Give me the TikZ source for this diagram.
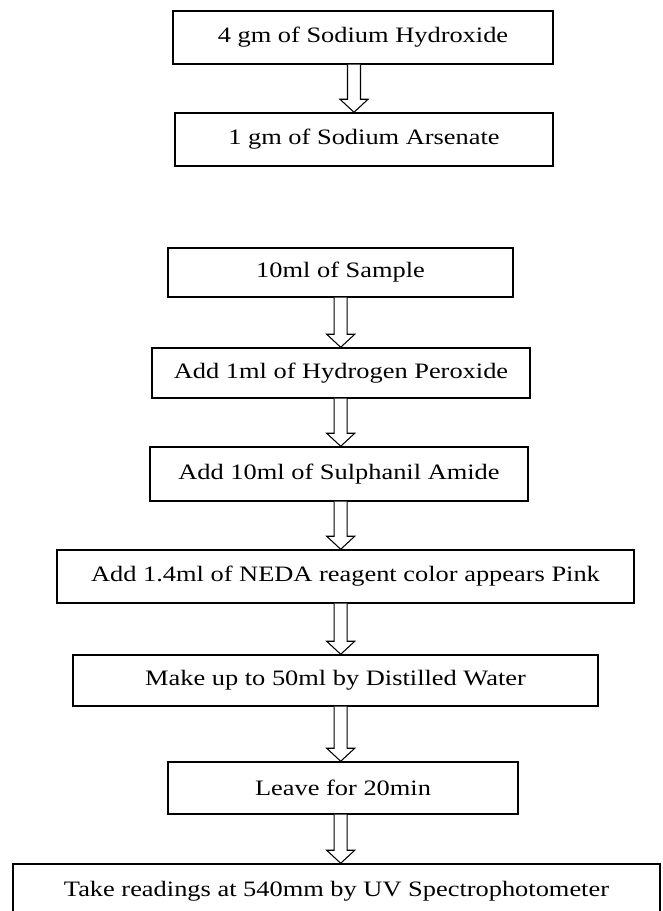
\documentclass[tikz,border=0pt]{standalone}
\usepackage{fontspec}
\setmainfont{Liberation Serif}[FakeStretch=1.2]
\usetikzlibrary{calc}
\tikzset{
  stepbox/.style={draw, line width=1.1pt, inner sep=0pt, anchor=center,
    font=\fontsize{16.5pt}{19pt}\selectfont},
  arrline/.style={draw, line width=0.8pt, fill=white}
}
\newcommand\flowarr[3]{%
  \draw[arrline] let \p1=(#1.south), \p2=(#2.north) in
    ({(#3-6.5)*0.75pt},\y1) -- ({(#3-6.5)*0.75pt},{\y2+9.75pt})
    -- ({(#3-14)*0.75pt},{\y2+9.75pt}) -- ({#3*0.75pt},\y2)
    -- ({(#3+14)*0.75pt},{\y2+9.75pt}) -- ({(#3+6.5)*0.75pt},{\y2+9.75pt})
    -- ({(#3+6.5)*0.75pt},\y1);}
\begin{document}
\begin{tikzpicture}[x=0.75pt,y=-0.75pt]
\useasboundingbox (0,0) rectangle (662,911);
\node[stepbox, minimum width=285pt, minimum height=39.75pt] (b1) at (363,37.5) {4 gm of Sodium Hydroxide};
\node[stepbox, minimum width=283.5pt, minimum height=39.75pt] (b2) at (364,139.5) {1 gm of Sodium Arsenate};
\node[stepbox, minimum width=258.75pt, minimum height=36.75pt] (b3) at (340.5,272.5) {10ml of Sample};
\node[stepbox, minimum width=283.5pt, minimum height=37.5pt] (b4) at (341,373) {Add 1ml of Hydrogen Peroxide};
\node[stepbox, minimum width=283.5pt, minimum height=40.5pt] (b5) at (339,474) {Add 10ml of Sulphanil Amide};
\node[stepbox, minimum width=432.75pt, minimum height=39.75pt] (b6) at (345.5,576.5) {Add 1.4ml of NEDA reagent color appears Pink};
\node[stepbox, minimum width=393.75pt, minimum height=38.25pt] (b7) at (335.5,680.5) {Make up to 50ml by Distilled Water};
\node[stepbox, minimum width=262.5pt, minimum height=39pt] (b8) at (343,788) {Leave for 20min};
\node[stepbox, minimum width=485.25pt, minimum height=40.5pt] (b9) at (336.5,891) {Take readings at 540mm by UV Spectrophotometer};
\flowarr{b1}{b2}{354}
\flowarr{b3}{b4}{340.7}
\flowarr{b4}{b5}{340.7}
\flowarr{b5}{b6}{340.7}
\flowarr{b6}{b7}{340.7}
\flowarr{b7}{b8}{340.7}
\flowarr{b8}{b9}{340.7}
\end{tikzpicture}
\end{document}
